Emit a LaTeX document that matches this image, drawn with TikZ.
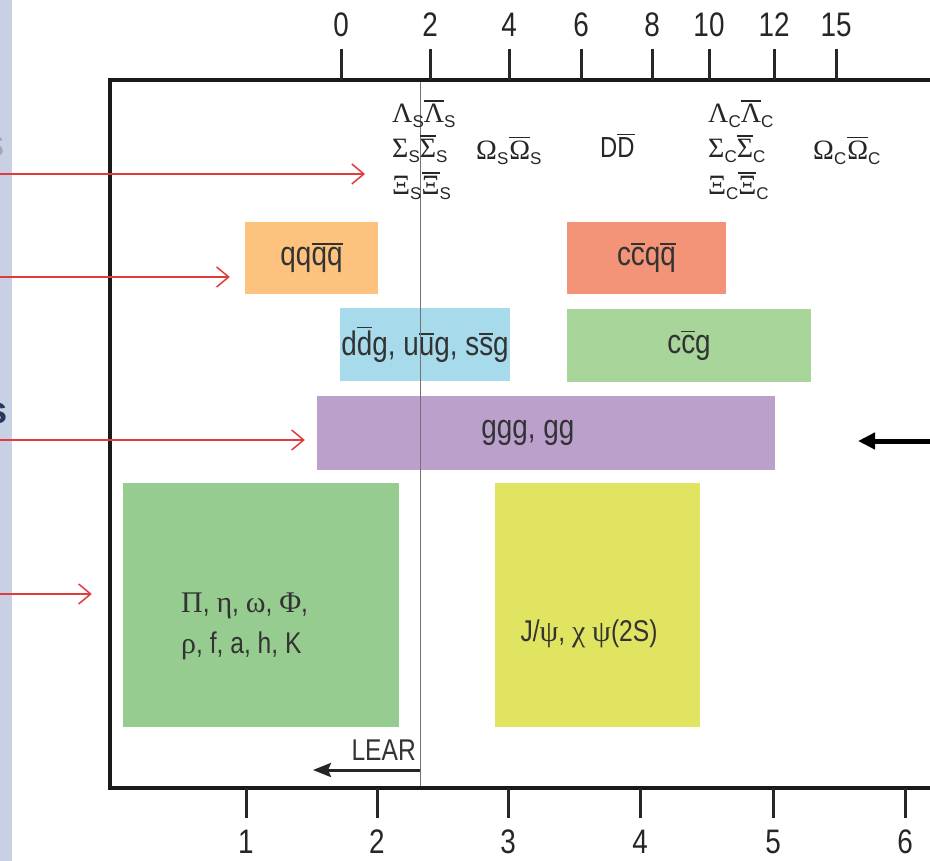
\documentclass[tikz,border=0pt]{standalone}
\usepackage{fontspec}
\usetikzlibrary{arrows.meta}
\newfontfamily\lsans[FakeStretch=0.82]{Liberation Sans}
\newfontfamily\lsansn{Liberation Sans}
\newfontfamily\lserif{Liberation Serif}
\definecolor{cOrange}{HTML}{FDC27E}
\definecolor{cSalmon}{HTML}{F39478}
\definecolor{cBlue}{HTML}{A7DAEA}
\definecolor{cGreenA}{HTML}{A8D69A}
\definecolor{cPurple}{HTML}{BCA0CC}
\definecolor{cGreenB}{HTML}{96CC8F}
\definecolor{cYellow}{HTML}{E0E460}
\definecolor{cStrip}{HTML}{C8D0E4}
\definecolor{cRed}{HTML}{E03C3C}
\definecolor{txt}{HTML}{333333}
\definecolor{cNavy}{HTML}{2A3560}
\newcommand\bxfont{\lsans\fontsize{34}{40}\selectfont}
\newcommand\myaxfont{\lsans\fontsize{34}{40}\selectfont}
\newcommand\grfont{\lserif\fontsize{28}{32}\selectfont}
\newcommand\sbs[1]{\raisebox{-5pt}{\lsansn\fontsize{17}{17}\selectfont #1}}
\newcommand\ob[1]{\leavevmode\vbox{\hrule height 1.8pt\kern 2.5pt\hbox{#1}}}
\newcommand\obg[1]{\leavevmode\vbox{\hrule height 1.5pt\kern 3pt\hbox{#1}}}
\tikzset{
  box/.style={draw=none, inner sep=0pt, text=txt, font=\bxfont},
  axlab/.style={font=\myaxfont, text=black!85, inner sep=0pt},
  tickline/.style={line width=3pt, draw=black!85},
  greek/.style={font=\grfont, text=black!85, inner sep=0pt, anchor=base west},
  redarr/.style={draw=cRed, line width=1.5pt, -{Straight Barb[length=12pt,width=20pt]}},
}
\begin{document}
\begin{tikzpicture}[x=1pt,y=-1pt]
\clip (0,0) rectangle (930,861);
\fill[white] (0,0) rectangle (930,861);
% left strip with clipped fragments
\fill[cStrip] (0,0) rectangle (12,861);
\node[font=\lsansn\bfseries\fontsize{38}{40}\selectfont, text=cNavy, anchor=base east, inner sep=0pt] (fragA) at (8,423) {s};
\node[font=\lsansn\fontsize{38}{40}\selectfont, text=cStrip!80!black, anchor=base east, inner sep=0pt] (fragB) at (5,157) {s};

% colored boxes
\node[box, fill=cOrange, minimum width=133pt, minimum height=72pt] (qqqq) at (311.5,258) {qq\ob{qq}};
\node[box, fill=cSalmon, minimum width=159pt, minimum height=72pt] (ccqq) at (646.5,258) {c\ob{c}q\ob{q}};
\node[box, fill=cBlue, minimum width=170pt, minimum height=73pt] (light) at (425,344.5) {d\ob{d}g, u\ob{u}g, s\ob{s}g};
\node[box, fill=cGreenA, minimum width=244pt, minimum height=73pt] (ccg) at (689,345.5) {c\ob{c}g};
\node[box, fill=cPurple, minimum width=458pt, minimum height=74pt] (ggg) at (546,433) {};
\node[box] (ggglab) at (528,433) {ggg, gg};
\node[box, fill=cGreenB, minimum width=276pt, minimum height=244pt] (meson) at (261,605) {};
\node[box, anchor=west, align=left, font=\lsans\fontsize{30}{41}\selectfont] (mesonlab) at (181,626)
  {{\lserif Π}, {\lserif η}, {\lserif ω}, {\lserif Φ},\\{\lserif ρ}, f, a, h, K};
\node[box, fill=cYellow, minimum width=205pt, minimum height=244pt] (charm) at (597.5,605) {};
\node[box, font=\lsans\fontsize{30}{36}\selectfont] (charmlab) at (589,634)
  {J/{\lserif ψ}, {\lserif χ} {\lserif ψ}(2S)};

% thin vertical line
\draw[black!55, line width=0.8pt] (420,80) -- (420,788);

% frame
\draw[line width=4.5pt, black!90] (110,80) rectangle (960,788);

% top axis
\foreach \v/\x in {0/341,2/430,4/509,6/581,8/652,10/709,12/774,15/836}{
  \node[axlab] (top\v) at (\x,25) {\v};
  \draw[tickline] (\x,49) -- (\x,80);
}
% bottom axis
\foreach \v/\x in {1/246,2/377,3/508,4/640,5/773,6/905}{
  \node[axlab] (bot\v) at (\x,842) {\v};
  \draw[tickline] (\x,788) -- (\x,818);
}

% top particle labels
\node[greek] (lamS) at (392,123) {Λ\sbs{S}\obg{Λ}\sbs{S}};
\node[greek] (sigS) at (392,158) {Σ\sbs{S}\obg{Σ}\sbs{S}};
\node[greek] (xiS)  at (392,195) {Ξ\sbs{S}\obg{Ξ}\sbs{S}};
\node[greek] (omS)  at (476,160) {Ω\sbs{S}\kern1pt\obg{Ω}\sbs{S}};
\node[greek, font=\lsans\fontsize{29}{32}\selectfont] (DD) at (600,158) {D\obg{D}};
\node[greek] (lamC) at (708,123) {Λ\sbs{C}\obg{Λ}\sbs{C}};
\node[greek] (sigC) at (708,158) {Σ\sbs{C}\obg{Σ}\sbs{C}};
\node[greek] (xiC)  at (708,195) {Ξ\sbs{C}\obg{Ξ}\sbs{C}};
\node[greek] (omC)  at (813,160) {Ω\sbs{C}\kern1pt\obg{Ω}\sbs{C}};

% LEAR
\coordinate (learS) at (420,770);
\coordinate (learE) at (313,770);
\draw[line width=3pt, black!85, -{Stealth[length=18pt,width=14pt,inset=3pt]}] (learS) -- (learE);
\node[font=\lsans\fontsize{30}{34}\selectfont, text=black!80, anchor=base east, inner sep=0pt] (lear) at (416,760) {LEAR};

% red arrows from the left
\coordinate (l1) at (0,174);
\coordinate (l2) at (0,277);
\coordinate (l3) at (0,440);
\coordinate (l4) at (0,594);
\draw[redarr, shorten >=27pt] (l1) -- (l1 -| sigS.west);
\draw[redarr, shorten >=15pt] (l2) -- (l2 -| qqqq.west);
\draw[redarr, shorten >=12pt] (l3) -- (l3 -| ggg.west);
\draw[redarr, shorten >=31pt] (l4) -- (l4 -| meson.west);

% black arrow on the right
\coordinate (r1) at (945,441);
\coordinate (r2) at (858,441);
\draw[line width=5pt, black, -{Triangle[length=17pt,width=16pt]}] (r1) -- (r2);
\end{tikzpicture}
\end{document}
